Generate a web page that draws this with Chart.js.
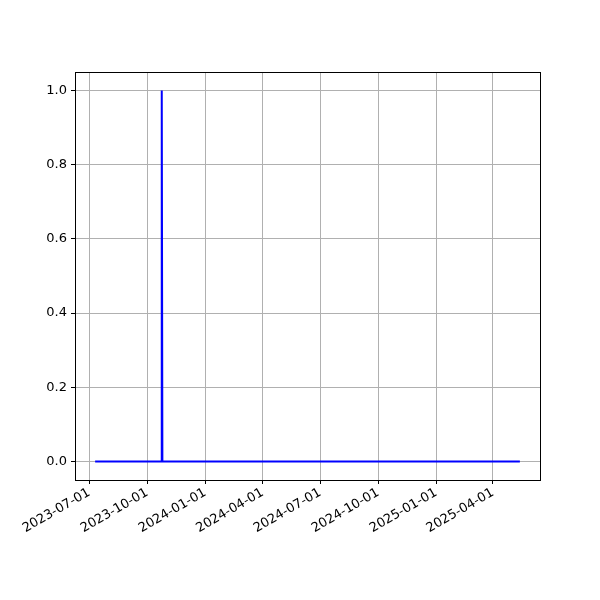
<!DOCTYPE html>
<html>
<head>
<meta charset="utf-8">
<script src="https://cdn.jsdelivr.net/npm/chart.js@4"></script>
<style>
  html, body { margin: 0; padding: 0; background: #fff; }
  #wrap { width: 600px; height: 600px; }
</style>
</head>
<body>
<div id="wrap"><canvas id="chart" width="600" height="600"></canvas></div>
<script>
// Daten
const dates = ['2023-07-12', '2023-10-23', '2023-10-24', '2023-10-25', '2025-05-12'];
const values = [0, 0, 1, 0, 0];
const xTickDates = ['2023-07-01', '2023-10-01', '2024-01-01', '2024-04-01',
                    '2024-07-01', '2024-10-01', '2025-01-01', '2025-04-01'];
const yTicks = [0.0, 0.2, 0.4, 0.6, 0.8, 1.0];

function toMs(s) {
    const p = s.split('-').map(Number);
    return Date.UTC(p[0], p[1] - 1, p[2]);
}

const points = dates.map((d, i) => ({ x: toMs(d), y: values[i] }));
const xs = points.map(p => p.x);
const span = Math.max(...xs) - Math.min(...xs);
const xMin = Math.min(...xs) - span * 0.05;
const xMax = Math.max(...xs) + span * 0.05;

// Rahmen um den Plotbereich
const frame = {
    id: 'frame',
    afterDatasetsDraw(chart) {
        const a = chart.chartArea, c = chart.ctx;
        c.save();
        c.strokeStyle = '#000';
        c.lineWidth = 1;
        c.strokeRect(Math.round(a.left) + 0.5, Math.round(a.top) + 0.5,
                     Math.round(a.right - a.left), Math.round(a.bottom - a.top));
        c.restore();
    }
};

const font = { family: 'DejaVu Sans', size: 13 };

new Chart(document.getElementById('chart'), {
    type: 'line',
    data: {
        datasets: [{
            data: points,
            borderColor: '#0000ff',
            borderWidth: 2,
            borderCapStyle: 'square',
            pointRadius: 0,
            tension: 0,
            fill: false
        }]
    },
    options: {
        responsive: false,
        animation: false,
        layout: { padding: { left: 0, top: 72, right: 60, bottom: 0 } },
        plugins: { legend: { display: false }, tooltip: { enabled: false } },
        scales: {
            x: {
                type: 'linear',
                min: xMin,
                max: xMax,
                afterBuildTicks: scale => {
                    scale.ticks = xTickDates.map(d => ({ value: toMs(d) }));
                },
                afterFit: scale => { scale.height = 120; },
                ticks: {
                    autoSkip: false,
                    maxRotation: 30,
                    minRotation: 30,
                    color: '#000',
                    font: font,
                    padding: 1,
                    callback: v => {
                        const d = new Date(v);
                        return d.getUTCFullYear() + '-' + String(d.getUTCMonth() + 1).padStart(2, '0') +
                               '-' + String(d.getUTCDate()).padStart(2, '0');
                    }
                },
                grid: { color: '#b0b0b0', lineWidth: 1, tickColor: '#000', tickLength: 4 },
                border: { color: '#000' }
            },
            y: {
                min: -0.05,
                max: 1.05,
                afterBuildTicks: scale => {
                    scale.ticks = yTicks.map(v => ({ value: v }));
                },
                afterFit: scale => { scale.width = 75; },
                ticks: {
                    color: '#000',
                    font: font,
                    padding: 4,
                    callback: v => Number(v).toFixed(1)
                },
                grid: { color: '#b0b0b0', lineWidth: 1, tickColor: '#000', tickLength: 4 },
                border: { color: '#000' }
            }
        }
    },
    plugins: [frame]
});
</script>
</body>
</html>
